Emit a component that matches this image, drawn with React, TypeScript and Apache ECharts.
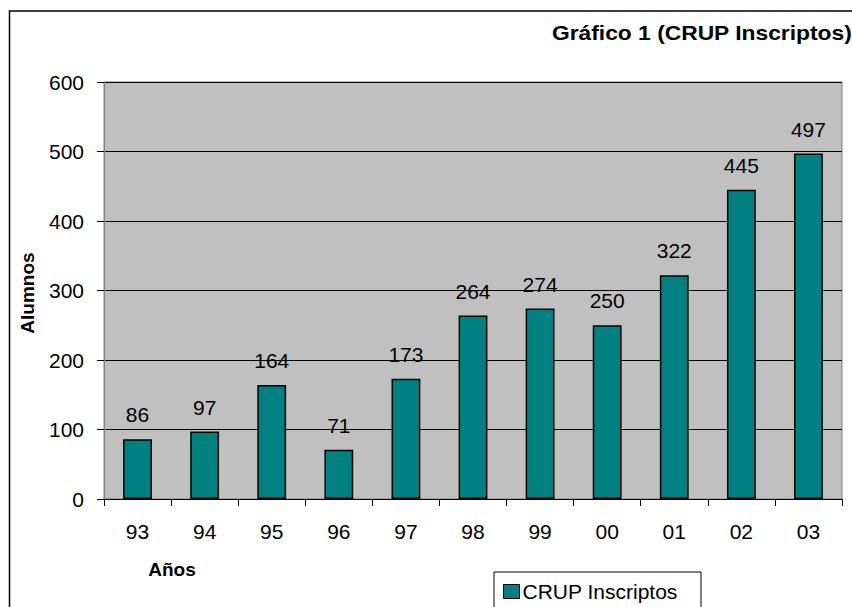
import React, { useEffect, useRef } from "react";
import * as echarts from "echarts";

const categories = ["93", "94", "95", "96", "97", "98", "99", "00", "01", "02", "03"];
const inscriptos = [86, 97, 164, 71, 173, 264, 274, 250, 322, 445, 497];
const seriesName = "CRUP Inscriptos";
const titleText = "Gráfico 1 (CRUP Inscriptos)";
const xName = "Años";
const yName = "Alumnos";

const FONT = "'Liberation Sans', Arial, sans-serif";
const FS = 21;

export default function App() {
  const ref = useRef<HTMLDivElement>(null);
  useEffect(() => {
    document.body.style.margin = "0";
    const chart = echarts.init(ref.current!, null, { renderer: "svg" });
    chart.setOption({
      animation: false,
      backgroundColor: "#ffffff",
      textStyle: { fontFamily: FONT },
      grid: {
        left: 104,
        right: 10,
        top: 82,
        bottom: 108,
        show: true,
        backgroundColor: "#c0c0c0",
        borderColor: "#808080",
        borderWidth: 1,
      },
      legend: {
        left: 503,
        top: 581,
        padding: 0,
        icon: "rect",
        itemWidth: 16,
        itemHeight: 14,
        itemGap: 6,
        textStyle: { fontSize: FS, color: "#000", fontFamily: FONT, padding: [0, 0, 0, -2] },
        data: [{ name: seriesName, itemStyle: { borderColor: "#000", borderWidth: 1 } }],
      },
      xAxis: {
        type: "category",
        data: categories,
        boundaryGap: true,
        axisLine: { lineStyle: { color: "#000", width: 1 } },
        axisTick: { show: true, length: 7, alignWithLabel: false, lineStyle: { color: "#000" } },
        axisLabel: { fontSize: FS, color: "#000", margin: 22, fontFamily: FONT },
        splitLine: { show: false },
      },
      yAxis: {
        type: "value",
        min: 0,
        max: 600,
        interval: 100,
        axisLine: { show: true, lineStyle: { color: "#808080", width: 1 } },
        axisTick: { show: true, length: 7, lineStyle: { color: "#000" } },
        axisLabel: { fontSize: FS, color: "#000", margin: 20, fontFamily: FONT },
        splitLine: { show: true, lineStyle: { color: "#000", width: 1 } },
      },
      series: [
        {
          name: seriesName,
          type: "bar",
          data: inscriptos,
          barWidth: "43%",
          itemStyle: { color: "#008080", borderColor: "#000", borderWidth: 1.5 },
          label: {
            show: true,
            position: "top",
            distance: 14,
            fontSize: FS,
            color: "#000",
            fontFamily: FONT,
          },
        },
      ],
      graphic: [
        {
          type: "rect",
          shape: { x: 9.5, y: 11, width: 1000, height: 1000 },
          style: { fill: "none", stroke: "#000", lineWidth: 1.5 },
          silent: true,
        },
        {
          type: "rect",
          shape: { x: 494, y: 572, width: 207, height: 80 },
          style: { fill: "#fff", stroke: "#000", lineWidth: 1 },
          z: -1,
          silent: true,
        },
        {
          type: "text",
          x: 552,
          y: 33,
          scaleX: 1.14,
          style: {
            text: titleText,
            font: `bold 20px ${FONT}`,
            fill: "#000",
            textAlign: "left",
            textVerticalAlign: "middle",
          },
        },
        {
          type: "text",
          x: 172,
          y: 569,
          style: {
            text: xName,
            font: `bold 19px ${FONT}`,
            fill: "#000",
            textAlign: "center",
            textVerticalAlign: "middle",
          },
        },
        {
          type: "text",
          x: 27,
          y: 293,
          rotation: Math.PI / 2,
          style: {
            text: yName,
            font: `bold 19px ${FONT}`,
            fill: "#000",
            textAlign: "center",
            textVerticalAlign: "middle",
          },
        },
      ],
    });
    return () => chart.dispose();
  }, []);
  return (
    <div
      ref={ref}
      style={{ position: "fixed", left: 0, top: 0, width: 852, height: 607 }}
    />
  );
}
